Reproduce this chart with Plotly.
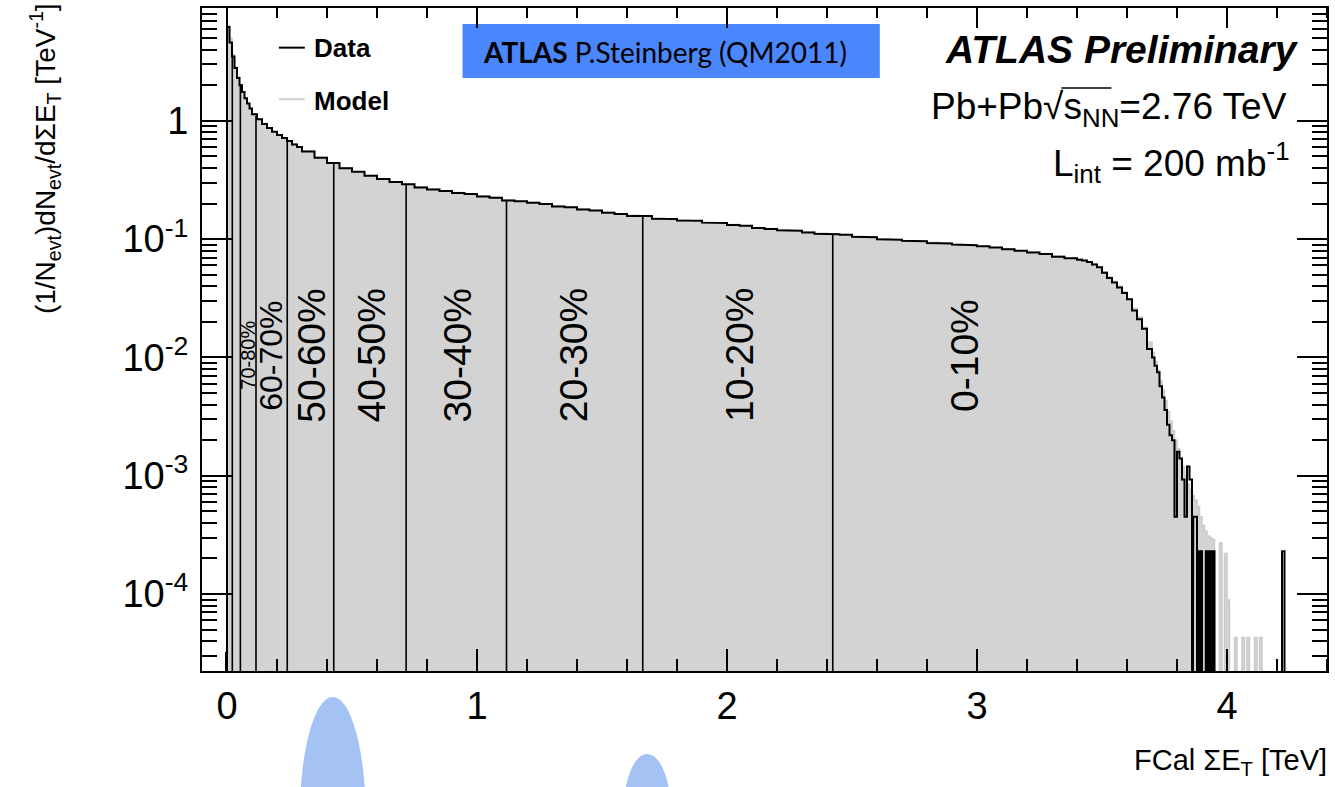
import numpy as np
import plotly.graph_objects as go

# ---------------- data ----------------
def seg(a, b, n):
    return list(np.linspace(a, b, n + 1)[:-1])

# Data histogram: variable bin edges (TeV)
data_edges = ([-0.004] + seg(0.0, 0.10, 10) + seg(0.10, 0.30, 10) + seg(0.30, 3.40, 62)
              + seg(3.40, 3.70, 15) + seg(3.70, 3.86, 16) + seg(3.86, 3.96, 20)
              + [3.96, 4.22, 4.23, 4.40])

data_vals = ([3.2e-5]
             + [6.2, 4.6, 3.5, 2.8, 2.3, 2.0, 1.75, 1.55, 1.40, 1.27]
             + [1.14, 1.03, 0.94, 0.87, 0.81, 0.76, 0.715, 0.675, 0.63, 0.60]
             + [0.552, 0.488, 0.441, 0.398, 0.372, 0.343, 0.322, 0.304, 0.291, 0.274,
                0.263, 0.256, 0.246, 0.241, 0.230, 0.224, 0.212, 0.209, 0.203, 0.198,
                0.189, 0.186, 0.178, 0.175, 0.167, 0.163, 0.157, 0.157, 0.149, 0.148,
                0.144, 0.143, 0.138, 0.137, 0.132, 0.130, 0.124, 0.122, 0.119, 0.118,
                0.114, 0.111, 0.110, 0.109, 0.105, 0.104, 0.100, 0.099, 0.097, 0.096,
                0.093, 0.092, 0.090, 0.089, 0.087, 0.085, 0.082, 0.080, 0.077, 0.075,
                0.071, 0.069]
             + [0.067, 0.066, 0.064, 0.061, 0.058, 0.052, 0.047, 0.043, 0.039, 0.035,
                0.031, 0.025, 0.021, 0.0175, 0.0118]
             + [0.0100, 0.0085, 0.0075, 0.0057, 0.0046, 0.0036, 0.0027, 0.0022, 0.0020,
                0.00045, 0.0016, 0.0014, 0.00093, 0.00045, 0.0012, 0.00093]
             + [0, 4.5e-4, 4.5e-4, 4.5e-4, 0, 2.3e-4, 0, 2.3e-4, 0, 0,
                0, 2.3e-4, 0, 2.3e-4, 0, 2.3e-4, 0, 2.3e-4, 0, 0]
             + [0, 2.3e-4, 0])

# Model histogram
model_edges = (seg(0.0, 0.10, 10) + seg(0.10, 0.30, 10) + seg(0.30, 3.40, 62)
               + seg(3.40, 3.70, 15) + seg(3.70, 4.15, 45) + [4.15, 4.40])

model_vals = ([6.4, 5.0, 3.6, 2.85, 2.35, 2.02, 1.77, 1.57, 1.41, 1.28]
              + [1.15, 1.04, 0.95, 0.875, 0.815, 0.765, 0.72, 0.68, 0.637, 0.605]
              + [0.556, 0.492, 0.443, 0.401, 0.372, 0.346, 0.324, 0.306, 0.292, 0.277,
                 0.265, 0.257, 0.248, 0.241, 0.232, 0.225, 0.214, 0.209, 0.204, 0.198,
                 0.191, 0.186, 0.180, 0.175, 0.169, 0.164, 0.159, 0.156, 0.151, 0.148,
                 0.145, 0.143, 0.139, 0.137, 0.133, 0.130, 0.125, 0.123, 0.120, 0.118,
                 0.115, 0.112, 0.110, 0.109, 0.106, 0.104, 0.101, 0.099, 0.097, 0.096,
                 0.094, 0.092, 0.090, 0.089, 0.087, 0.085, 0.083, 0.080, 0.078, 0.075,
                 0.072, 0.069]
              + [0.068, 0.066, 0.064, 0.062, 0.058, 0.053, 0.048, 0.044, 0.040, 0.036,
                 0.031, 0.026, 0.022, 0.018, 0.0135]
              + [0.011, 0.0092, 0.0078, 0.0064, 0.0053, 0.0043, 0.0035, 0.0029, 0.0024, 0.0020,
                 0.0017, 0.0014, 0.0012, 0.0010, 0.00085, 0.00075, 0.00068, 0.00062, 0.00055, 0.00045,
                 0.00038, 0.00034, 0.00031, 0.00030, 0.00029, 0, 0, 0.00027, 0, 0.00022,
                 0.000089, 0, 0, 0.000043, 0, 0, 0.000043, 0, 0.000043, 0,
                 0, 0.000043, 0, 0.000043, 0]
              + [0])

# Centrality cut positions (TeV) and labels
cut_positions = [0.0212, 0.0535, 0.116, 0.241, 0.427, 0.7165, 1.118, 1.663, 2.423]
cent_labels = ["70-80%", "60-70%", "50-60%", "40-50%", "30-40%", "20-30%", "10-20%", "0-10%"]
cent_label_x = [0.085, 0.177, 0.337, 0.576, 0.92, 1.387, 2.05, 2.95]
cent_label_size = [20, 32, 39, 39, 39, 39, 39, 39]

x_tick_vals = [0, 1, 2, 3, 4]
x_minor_vals = [round(0.2 * k, 1) for k in range(0, 23) if k % 5 != 0]
y_tick_vals = [1e-4, 1e-3, 1e-2, 1e-1, 1]
y_tick_text = ["10<sup>-4</sup>", "10<sup>-3</sup>", "10<sup>-2</sup>", "10<sup>-1</sup>", "1"]

assert len(data_edges) == len(data_vals) + 1
assert len(model_edges) == len(model_vals) + 1

FLOOR = 1e-9
Y_LOG_RANGE = [-4.65, 0.954]


def step_path(edges, vals):
    xs, ys = [edges[0]], [FLOOR]
    for lo, hi, v in zip(edges[:-1], edges[1:], vals):
        vv = v if v > 0 else FLOOR
        xs += [lo, hi]
        ys += [vv, vv]
    xs.append(edges[-1])
    ys.append(FLOOR)
    return xs, ys


FONT = "Liberation Sans"
W, H = 1335, 787
L, R, T, B = 202, 6, 7, 116
PH = H - T - B
PX_PER_DECADE = PH / (Y_LOG_RANGE[1] - Y_LOG_RANGE[0])


def pxx(x):
    return (x - L) / (W - L - R)


def pxy(y):
    return (H - B - y) / PH


fig = go.Figure()

mx, my = step_path(model_edges, model_vals)
fig.add_trace(go.Scatter(x=mx, y=my, mode="lines", fill="toself", fillcolor="#d3d3d3",
                         line=dict(color="#cbcbcb", width=1.5), hoverinfo="skip"))

# centrality cut lines from the axis up to the data curve
d_edges = np.array(data_edges)
d_vals = np.array(data_vals)
centers = 0.5 * (d_edges[:-1] + d_edges[1:])
cx, cy = [], []
for c in cut_positions:
    h = float(np.interp(c, centers[1:], d_vals[1:]))
    cx += [c, c, None]
    cy += [FLOOR, h, None]
fig.add_trace(go.Scatter(x=cx, y=cy, mode="lines", line=dict(color="black", width=1.6),
                         hoverinfo="skip"))

dx, dy = step_path(data_edges, data_vals)
fig.add_trace(go.Scatter(x=dx, y=dy, mode="lines", line=dict(color="black", width=2),
                         hoverinfo="skip"))

# x-axis tick marks (inside, bottom and top) drawn above the histogram
ybot, ytop = 10 ** Y_LOG_RANGE[0], 10 ** Y_LOG_RANGE[1]
tx_major, ty_major, tx_minor, ty_minor = [], [], [], []
for v in x_tick_vals:
    tx_major += [v, v, None, v, v, None]
    ty_major += [ybot, ybot * 10 ** (22 / PX_PER_DECADE), None,
                 ytop, ytop / 10 ** (20 / PX_PER_DECADE), None]
for v in x_minor_vals:
    tx_minor += [v, v, None, v, v, None]
    ty_minor += [ybot, ybot * 10 ** (12 / PX_PER_DECADE), None,
                 ytop, ytop / 10 ** (10 / PX_PER_DECADE), None]
fig.add_trace(go.Scatter(x=tx_major, y=ty_major, mode="lines",
                         line=dict(color="black", width=2), hoverinfo="skip"))
fig.add_trace(go.Scatter(x=tx_minor, y=ty_minor, mode="lines",
                         line=dict(color="black", width=2), hoverinfo="skip"))

minor_y = [k * 10.0 ** e for e in range(-5, 1) for k in range(2, 10)]

fig.update_layout(
    width=W, height=H, margin=dict(l=L, r=R, t=T, b=B),
    paper_bgcolor="white", plot_bgcolor="white", showlegend=False,
    font=dict(family=FONT, color="black"),
    xaxis=dict(range=[-0.1, 4.4], tickmode="array", tickvals=x_tick_vals,
               ticks="", showline=True, linewidth=2, linecolor="black", mirror=True,
               showgrid=False, zeroline=False, tickfont=dict(size=38, family=FONT),
               ticklabelstandoff=0),
    yaxis=dict(type="log", range=Y_LOG_RANGE, tickmode="array", tickvals=y_tick_vals,
               ticktext=y_tick_text, ticks="inside", ticklen=30, tickwidth=2, tickcolor="black",
               showline=True, linewidth=2, linecolor="black", mirror="allticks",
               showgrid=False, zeroline=False, tickfont=dict(size=38, family=FONT),
               ticklabelstandoff=4,
               minor=dict(tickmode="array", tickvals=minor_y, ticks="inside", ticklen=15,
                          tickwidth=1.5, tickcolor="black", showgrid=False)),
)

ann = []
for lab, lx, ls in zip(cent_labels, cent_label_x, cent_label_size):
    ann.append(dict(text=lab, x=lx, xref="x", y=pxy(355), yref="paper", textangle=-90,
                    showarrow=False, xanchor="center", yanchor="middle",
                    font=dict(size=ls, family=FONT, color="black")))
ann.append(dict(text="<b>Data</b>", x=pxx(312), y=pxy(47), xref="paper", yref="paper",
                xanchor="left", yanchor="middle", showarrow=False, font=dict(size=26)))
ann.append(dict(text="<b>Model</b>", x=pxx(312), y=pxy(100), xref="paper", yref="paper",
                xanchor="left", yanchor="middle", showarrow=False, font=dict(size=26)))
ann.append(dict(text="<b>ATLAS</b> P.Steinberg (QM2011)", x=pxx(481), y=pxy(51),
                xref="paper", yref="paper", xanchor="left", yanchor="middle", showarrow=False,
                font=dict(size=28, family="Lato")))
ann.append(dict(text="<b><i>ATLAS Preliminary</i></b>", x=pxx(1303), y=pxy(49),
                xref="paper", yref="paper", xanchor="right", yanchor="middle", showarrow=False,
                font=dict(size=39)))
ann.append(dict(text="Pb+Pb√s<sub>NN</sub>=2.76 TeV",
                x=pxx(1291), y=pxy(108), xref="paper", yref="paper", xanchor="right",
                yanchor="middle", showarrow=False, font=dict(size=37)))
ann.append(dict(text="L<sub>int</sub> = 200 mb<sup>-1</sup>", x=pxx(1294), y=pxy(162),
                xref="paper", yref="paper", xanchor="right", yanchor="middle", showarrow=False,
                font=dict(size=37)))
ann.append(dict(text="(1/N<sub>evt</sub>)dN<sub>evt</sub>/dΣE<sub>T</sub> [TeV<sup>-1</sup>]",
                x=pxx(45), y=pxy(158), xref="paper", yref="paper", textangle=-90,
                xanchor="center", yanchor="middle", showarrow=False, font=dict(size=28)))
ann.append(dict(text="FCal ΣE<sub>T</sub> [TeV]", x=pxx(1331), y=pxy(762), xref="paper",
                yref="paper", xanchor="right", yanchor="middle", showarrow=False,
                font=dict(size=29)))

shapes = [
    dict(type="line", xref="paper", yref="paper", x0=pxx(279), x1=pxx(305), y0=pxy(46.7),
         y1=pxy(46.7), line=dict(color="black", width=2)),
    dict(type="line", xref="paper", yref="paper", x0=pxx(279), x1=pxx(305), y0=pxy(98.3),
         y1=pxy(98.3), line=dict(color="#d0d0d0", width=2)),
    dict(type="rect", xref="paper", yref="paper", x0=pxx(463), x1=pxx(881), y0=pxy(23),
         y1=pxy(77), fillcolor="#4a86fc", line=dict(width=0), layer="below"),
    dict(type="line", xref="paper", yref="paper", x0=pxx(1063), x1=pxx(1113), y0=pxy(87),
         y1=pxy(87), line=dict(color="black", width=1.5)),
    dict(type="circle", xref="paper", yref="paper", x0=pxx(300), x1=pxx(366), y0=pxy(697),
         y1=pxy(937), fillcolor="#a4c2f4", line=dict(width=0)),
    dict(type="circle", xref="paper", yref="paper", x0=pxx(624), x1=pxx(672), y0=pxy(754),
         y1=pxy(874), fillcolor="#a4c2f4", line=dict(width=0)),
]
fig.update_layout(annotations=ann, shapes=shapes)

fig.write_html("out.html")
